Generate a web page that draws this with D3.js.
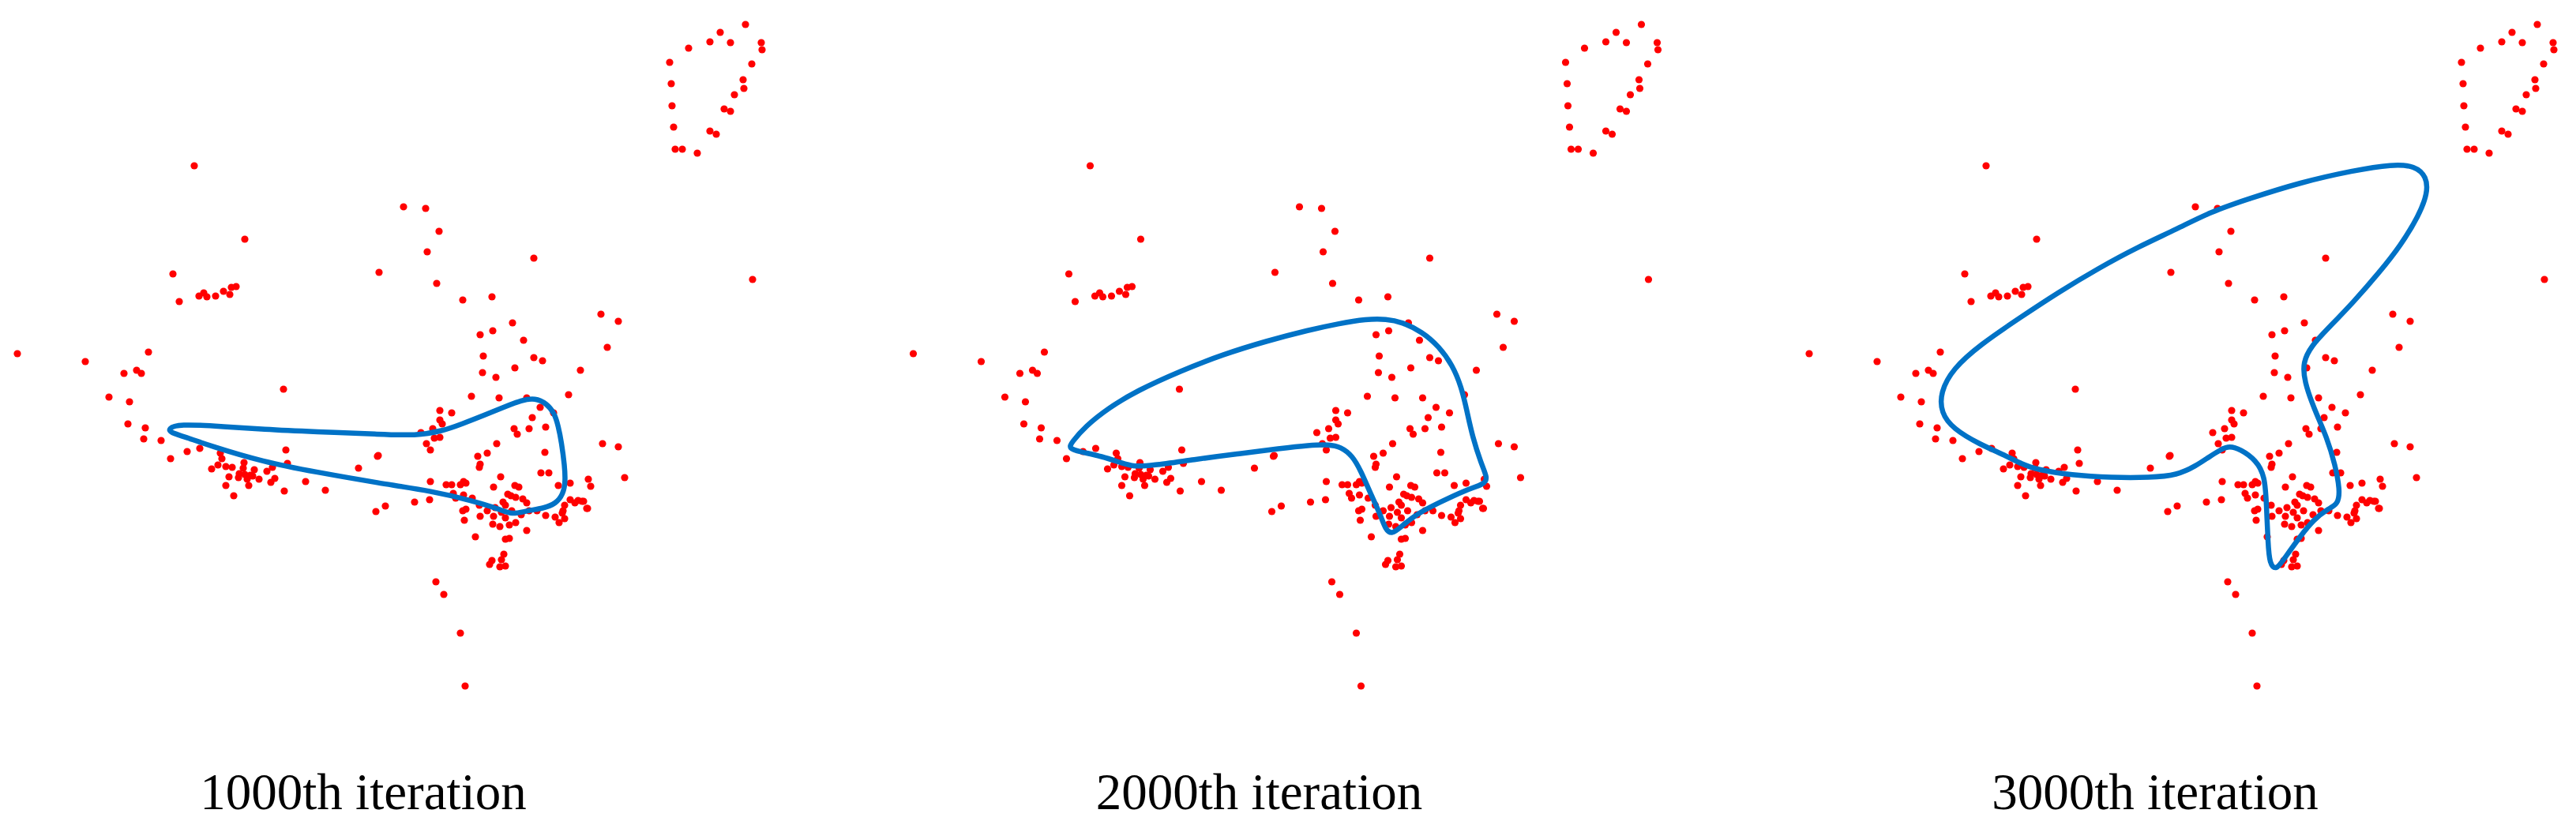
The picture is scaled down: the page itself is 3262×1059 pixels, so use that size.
<!DOCTYPE html>
<html>
<head>
<meta charset="utf-8">
<script src="https://cdn.jsdelivr.net/npm/d3@7"></script>
<style>
  html, body { margin: 0; padding: 0; background: #ffffff; }
  svg { display: block; }
</style>
</head>
<body>
<svg id="chart" width="3262" height="1059"></svg>
<script>
// ---------------- DATA ----------------
const panelLabels = ["1000th iteration", "2000th iteration", "3000th iteration"];

// Sample points (same in all three panels), in data units [x, y]
const samplePoints = [
  [246,210],[310,303],[219,347],[227,382],[252,375],[258,371],[262,376],[273,375],[283,369],[291,373],[293,364],[299,363],
  [22,448],[108,458],[188,446],[157,473],[173,469],[179,473],[138,503],[164,509],[359,493],[162,537],[184,542],[182,556],
  [204,558],[216,581],[237,572],[253,568],[279,574],[281,581],[362,570],[478,578],[454,593],[364,587],[345,592],[268,594],
  [276,589],[286,591],[294,592],[309,586],[308,593],[322,595],[303,600],[310,601],[317,602],[302,605],[313,607],[320,603],
  [290,604],[328,607],[338,597],[348,606],[343,611],[286,615],[315,615],[296,628],[360,622],[387,610],[412,621],[476,648],
  [511,262],[539,264],[556,293],[541,319],[676,327],[480,345],[553,359],[586,380],[623,376],[761,398],[783,407],[649,409],
  [608,424],[624,419],[663,431],[769,440],[612,451],[676,453],[687,457],[652,466],[735,469],[611,472],[628,478],[720,500],
  [597,502],[632,504],[667,504],[557,520],[572,523],[684,516],[701,523],[557,532],[560,537],[674,529],[691,541],[548,543],
  [533,548],[651,543],[655,550],[670,543],[550,555],[557,554],[540,562],[545,570],[629,562],[763,562],[783,566],[479,577],
  [605,578],[617,574],[690,573],
  [608,588],[607,592],[685,599],[695,599],[634,604],[545,610],[565,614],[572,614],[583,614],[587,610],[590,612],[625,617],
  [652,615],[657,617],[707,615],[722,612],[745,607],[748,616],[574,625],[587,627],[577,631],[598,631],[643,626],[647,628],
  [653,630],[662,632],[667,637],[637,636],[640,640],[525,636],[544,633],[488,641],[586,647],[590,645],[607,640],[617,647],
  [627,643],[608,654],[625,654],[635,649],[640,656],[648,647],[660,652],[670,647],[680,647],[691,653],[703,655],[713,647],
  [715,657],[708,662],[722,633],[728,637],[737,635],[715,640],[743,644],[588,659],[624,664],[633,667],[645,665],[653,662],
  [667,672],[602,680],[640,683],[645,682],[638,702],[635,709],[623,710],[620,715],[633,718],[640,717],[552,737],[562,753],
  [583,802],[589,869],
  [791,605],[732,634],[739,635],[744,644],[712,650],
  [944,31],[912,41],[899,53],[925,54],[964,54],[965,63],[872,61],[848,79],[952,81],[941,101],[942,112],[850,106],
  [930,120],[851,134],[917,138],[925,141],[853,161],[899,166],[907,170],[855,189],[864,189],[883,194],
  [953,354]
];

// Contour after 1000 iterations
const contour1000 = [
  [213,543],[226,537],[280,540],[333,544],[400,547],[480,550],[527,552],[560,546],[585,537],[613,526],[640,515],
  [660,507],[678,504],[692,511],[702,523],[707,540],[711,560],[715,590],[716,611],[713,626],[704,638],[688,644],
  [667,647],[648,652],[633,645],[597,634],[547,622],[480,612],[400,598],[333,585],[267,565],[233,553],[216,548]
];

// Contour after 2000 iterations
const contour2000 = [
  [219,568],[222,561],[240,540],[269,517],[305,495],[360,470],[414,449],[469,432],[523,418],[560,410],[596,404],
  [621,404],[641,408],[666,420],[688,439],[705,463],[716,490],[723,520],[730,553],[741,587],[749,605],[746,613],
  [723,620],[687,637],[658,652],[640,667],[628,677],[620,671],[614,653],[600,623],[589,597],[578,577],[563,566],
  [549,563],[523,564],[487,568],[432,575],[378,582],[323,590],[301,591],[287,587],[261,578],[232,572]
];

// Contour after 3000 iterations
const contour3000 = [
  [531,268],[578,252],[644,231],[711,216],[761,208],[789,210],[804,224],[805,245],[794,273],[771,311],[744,345],
  [711,383],[678,417],[658,438],[647,459],[649,483],[661,517],[678,555],[688,589],[694,620],[692,639],[678,645],
  [661,658],[644,679],[624,707],[613,723],[605,714],[603,689],[601,638],[599,603],[588,583],[568,569],[554,565],
  [544,569],[528,579],[512,590],[488,602],[454,605],[404,605],[354,602],[311,595],[291,588],[271,577],[238,563],
  [204,543],[189,523],[188,497],[204,467],[238,437],[288,403],[338,370],[388,340],[438,313],[488,290]
];

const contours = [contour1000, contour2000, contour3000];

// ---------------- LAYOUT ----------------
const svg = d3.select("#chart");
const panelWidth = 1134.5;
const domainX = [0, 1000];
const domainY = [0, 1059];

const lineColor = "#0072c6";
const dotColor = "#ff0000";

panelLabels.forEach((label, i) => {
  const off = i * panelWidth;
  const x = d3.scaleLinear().domain(domainX).range([off, off + 1000]);
  const y = d3.scaleLinear().domain(domainY).range([0, 1059]);

  const g = svg.append("g").attr("class", "panel");

  g.append("g").selectAll("circle")
    .data(samplePoints)
    .join("circle")
    .attr("cx", d => x(d[0]))
    .attr("cy", d => y(d[1]))
    .attr("r", 4.6)
    .attr("fill", dotColor);

  const line = d3.line()
    .x(d => x(d[0]))
    .y(d => y(d[1]))
    .curve(d3.curveBasisClosed);

  g.append("path")
    .datum(contours[i])
    .attr("d", line)
    .attr("fill", "none")
    .attr("stroke", lineColor)
    .attr("stroke-width", 6.5)
    .attr("stroke-linejoin", "round");

  g.append("text")
    .attr("x", x(460))
    .attr("y", y(1025))
    .attr("text-anchor", "middle")
    .attr("font-family", "'Liberation Serif', 'Times New Roman', serif")
    .attr("font-size", 65)
    .attr("fill", "#000")
    .text(label);
});
</script>
</body>
</html>
